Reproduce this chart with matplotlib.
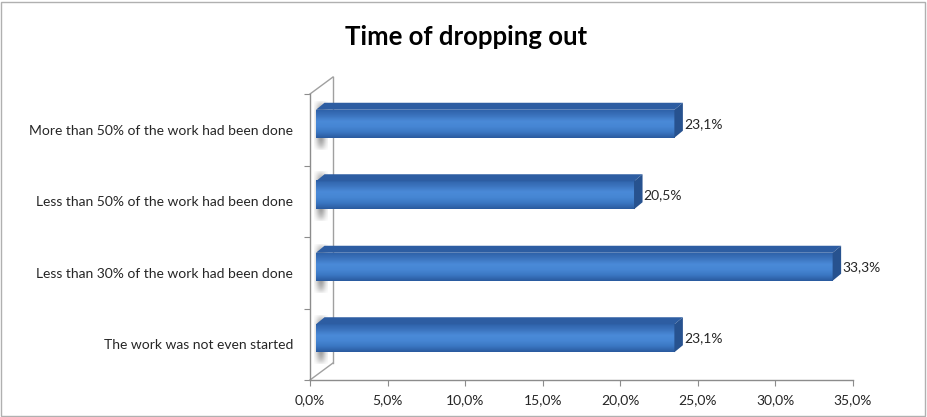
import numpy as np
import matplotlib
matplotlib.use("Agg")
import matplotlib.pyplot as plt
from matplotlib.patches import Polygon, Rectangle
from matplotlib.colors import LinearSegmentedColormap

plt.rcParams['font.family'] = ['Lato', 'DejaVu Sans']

# data (bottom to top)
categories = ["The work was not even started",
              "Less than 30% of the work had been done",
              "Less than 50% of the work had been done",
              "More than 50% of the work had been done"]
values = [23.1, 33.3, 20.5, 23.1]
xticks = [0, 5, 10, 15, 20, 25, 30, 35]

W, H = 927, 417
fig = plt.figure(figsize=(W / 100, H / 100), dpi=100)
# plot area in pixels: x 310..853, y 94..380
ax = fig.add_axes([310 / W, 1 - 380 / H, 543 / W, 286 / H])
ax.set_facecolor('none')

PX = 35 / 543.0   # data units per pixel (x)
PY = 4 / 286.0    # data units per pixel (y)

# blue gradient for front faces (top -> bottom)
front_cmap = LinearSegmentedColormap.from_list(
    "front", ["#2A5A9E", "#3A76C2", "#4686D3", "#4A8AD8", "#3C74BE", "#2F63AA"])
grad = np.linspace(0, 1, 64).reshape(-1, 1)

gray = '#8C8C8C'

# left wall (3D back edge)
wdx, wdy = 23 * PX, 17 * PY
ax.plot([0, wdx], [4, 4 + wdy], color='#A0A0A0', lw=1, clip_on=False)
ax.plot([0, wdx], [0, wdy], color='#A0A0A0', lw=1, clip_on=False)
ax.plot([wdx, wdx], [wdy, 4 + wdy], color='#A0A0A0', lw=1, clip_on=False)

for i, v in enumerate(values):
    yc = i + 0.5 + 6 * PY
    h = 28 * PY
    x0, x1 = 6 * PX, v + 6 * PX
    y0, y1 = yc - h / 2, yc + h / 2
    ddx, ddy = 8.5 * PX, 7 * PY

    # soft shadow on the wall
    sx = np.linspace(-1, 1, 40)
    sy = np.linspace(-1, 1, 80)
    gx, gy = np.meshgrid(sx, sy)
    alpha = np.exp(-(gx ** 2) * 2.0) * np.clip(1.15 - np.abs(gy) ** 3, 0, 1) * 0.75
    shadow = np.zeros((80, 40, 4))
    shadow[..., :3] = 0.5
    shadow[..., 3] = alpha
    ax.imshow(shadow, extent=(4 * PX, 18 * PX, y0 - 12 * PY, y1 + 9 * PY),
              aspect='auto', origin='lower', zorder=1, interpolation='bilinear')

    # front face
    ax.imshow(grad, extent=(x0, x1, y0, y1), aspect='auto', origin='lower',
              cmap=front_cmap, zorder=3, interpolation='bilinear')
    # top face
    ax.add_patch(Polygon([(x0, y1), (x1, y1), (x1 + ddx, y1 + ddy), (x0 + ddx, y1 + ddy)],
                         closed=True, facecolor='#2D5DA2', edgecolor='none', zorder=3))
    # side face
    ax.add_patch(Polygon([(x1, y0), (x1 + ddx, y0 + ddy), (x1 + ddx, y1 + ddy), (x1, y1)],
                         closed=True, facecolor='#27528F', edgecolor='none', zorder=3))

    ax.text(x1 + ddx + 1 * PX, yc, f"{v:.1f}%".replace('.', ','),
            va='center', ha='left', fontsize=10, color='#262626', zorder=4)

ax.set_xlim(0, 35)
ax.set_ylim(0, 4)

for s in ['top', 'right']:
    ax.spines[s].set_visible(False)
for s in ['left', 'bottom']:
    ax.spines[s].set_color(gray)
    ax.spines[s].set_linewidth(1)

ax.set_xticks(xticks)
ax.set_xticklabels([f"{t:.1f}%".replace('.', ',') for t in xticks])
ax.set_yticks(range(5))
ax.set_yticklabels([])
ax.set_yticks([i + 0.5 for i in range(4)], minor=True)
ax.set_yticklabels(categories, minor=True)
ax.tick_params(axis='x', direction='out', length=4, color=gray, labelsize=10,
               labelcolor='#262626', pad=6)
ax.tick_params(axis='y', which='major', direction='out', length=4, color=gray)
ax.tick_params(axis='y', which='minor', length=0, labelsize=10,
               labelcolor='#262626', pad=12)

fig.text(466 / W, 1 - 37 / H, "Time of dropping out", ha='center', va='center',
         fontsize=18.5, fontweight='bold', color='black')

fig.patches.append(Rectangle((1 / W, 1 / H), (W - 3) / W, (H - 3) / H,
                             transform=fig.transFigure, fill=False,
                             edgecolor='#B0B0B0', lw=1))

fig.savefig("out.png", dpi=100)
